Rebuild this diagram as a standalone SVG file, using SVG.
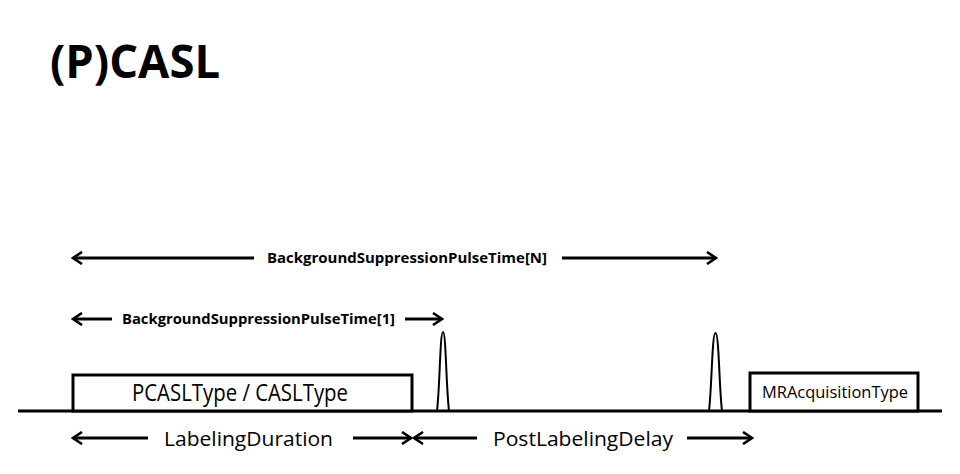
<svg xmlns="http://www.w3.org/2000/svg" width="960" height="474" viewBox="0 0 960 474">
<style>
text{font-family:"Open Sans","Liberation Sans",sans-serif;fill:#000}
.b{font-weight:bold}
.ln{stroke:#000;stroke-width:3;fill:none}
.box{stroke:#000;stroke-width:3;fill:#fff}
.pulse{stroke:#000;stroke-width:2;fill:none}
</style>
<defs>
<marker id="ah" viewBox="0 0 12 14" refX="10" refY="7" markerWidth="12" markerHeight="14" markerUnits="userSpaceOnUse" orient="auto-start-reverse">
<path d="M1,1 L10,7 L1,13" fill="none" stroke="#000" stroke-width="2.6"/>
</marker>
</defs>
<rect width="960" height="474" fill="#fff"/>
<text id="title" class="b" x="50" y="78" font-size="46" textLength="170" lengthAdjust="spacingAndGlyphs">(P)CASL</text>
<g id="baseline"><line class="ln" x1="18" y1="411" x2="942" y2="411"/></g>
<g id="labeling-box">
<rect class="box" x="73" y="375" width="339" height="36"/>
<text x="132" y="401" font-size="23" textLength="216" lengthAdjust="spacingAndGlyphs">PCASLType / CASLType</text>
</g>
<g id="pulse1"><path class="pulse" d="M437,411 C440,385 440,332 443,332 C446,332 446,385 449,411"/></g>
<g id="pulse2"><path class="pulse" d="M709,411 C712,385 712,333 715.5,333 C719,333 719,385 722,411"/></g>
<g id="acq-box">
<rect class="box" x="750" y="373" width="168" height="38"/>
<text x="762" y="398" font-size="17" textLength="146" lengthAdjust="spacingAndGlyphs">MRAcquisitionType</text>
</g>
<g id="connectors">
<line class="ln" x1="254" y1="258" x2="73" y2="258" marker-end="url(#ah)"/>
<line class="ln" x1="562" y1="258" x2="716" y2="258" marker-end="url(#ah)"/>
<line class="ln" x1="112" y1="319" x2="73" y2="319" marker-end="url(#ah)"/>
<line class="ln" x1="405" y1="319" x2="442" y2="319" marker-end="url(#ah)"/>
<line class="ln" x1="148" y1="438" x2="73" y2="438" marker-end="url(#ah)"/>
<line class="ln" x1="353" y1="438" x2="411" y2="438" marker-end="url(#ah)"/>
<line class="ln" x1="477" y1="438" x2="414" y2="438" marker-end="url(#ah)"/>
<line class="ln" x1="687" y1="438" x2="752" y2="438" marker-end="url(#ah)"/>
</g>
<g id="labels">
<text class="b" x="267" y="263" font-size="14" textLength="280" lengthAdjust="spacingAndGlyphs">BackgroundSuppressionPulseTime[N]</text>
<text class="b" x="122" y="324" font-size="14" textLength="273" lengthAdjust="spacingAndGlyphs">BackgroundSuppressionPulseTime[1]</text>
<text x="164" y="446" font-size="20" textLength="169" lengthAdjust="spacingAndGlyphs">LabelingDuration</text>
<text x="493" y="446" font-size="20" textLength="180" lengthAdjust="spacingAndGlyphs">PostLabelingDelay</text>
</g>
</svg>
